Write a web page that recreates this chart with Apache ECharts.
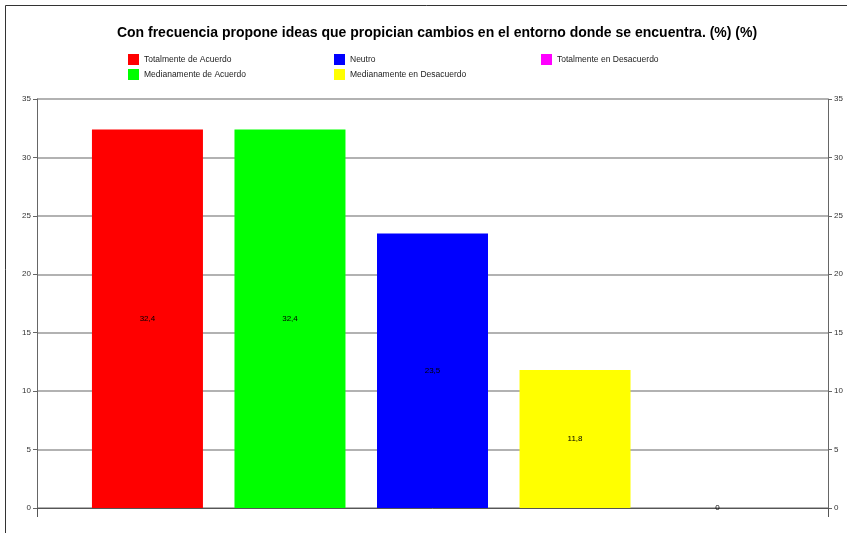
<!DOCTYPE html>
<html><head><meta charset="utf-8">
<script src="https://cdn.jsdelivr.net/npm/echarts@6/dist/echarts.min.js"></script>
<style>html,body{margin:0;padding:0;background:#fff}#c{width:847px;height:533px}</style>
</head><body><div id="c"></div>
<script>
const titleText = 'Con frecuencia propone ideas que propician cambios en el entorno donde se encuentra. (%) (%)';
const seriesNames = ['Totalmente de Acuerdo','Medianamente de Acuerdo','Neutro','Medianamente en Desacuerdo','Totalmente en Desacuerdo'];
const seriesValues = [32.4, 32.4, 23.5, 11.8, 0];
const seriesColors = ['#FF0000','#00FF00','#0000FF','#FFFF00','#FF00FF'];
const categories = [''];

const chart = echarts.init(document.getElementById('c'));
const font = 'Liberation Sans, Arial, sans-serif';
const legendCommon = {orient:'vertical', itemWidth:11, itemHeight:11, itemGap:4, icon:'rect',
  textStyle:{fontSize:8.5, color:'#222', fontFamily:font}};
const series = seriesNames.map((n,i)=>({
  name:n, type:'bar', data:[seriesValues[i]], barWidth:111, barGap:'28.4%',
  itemStyle:{color:seriesColors[i]},
  label:{show:true, position:'inside', fontSize:8, color:'#000', fontFamily:font,
    formatter:p=>String(p.value).replace('.',',')}
}));
series[4].label.position = 'insideBottom';
series[4].label.distance = -4;
chart.setOption({
  animation:false,
  title:{text:titleText, left:432, textAlign:'center', top:21,
    textStyle:{fontSize:14, fontWeight:'bold', color:'#000', fontFamily:font}},
  legend:[
    Object.assign({}, legendCommon, {left:123, top:49, data:[seriesNames[0], seriesNames[1]]}),
    Object.assign({}, legendCommon, {left:329, top:49, data:[seriesNames[2], seriesNames[3]]}),
    Object.assign({}, legendCommon, {left:536, top:49, data:[seriesNames[4]]})
  ],
  grid:{left:37, right:19, top:99, bottom:25, containLabel:false},
  xAxis:{type:'category', data:categories,
    axisLine:{lineStyle:{color:'#555'}}, axisTick:{show:true, length:9, lineStyle:{color:'#555'}},
    axisLabel:{show:false}},
  yAxis:[
    {type:'value', min:0, max:35, interval:5, position:'left',
      axisLine:{show:true, lineStyle:{color:'#666'}}, axisTick:{show:true, length:4, lineStyle:{color:'#666'}},
      axisLabel:{fontSize:8, color:'#333', margin:6, fontFamily:font},
      splitLine:{lineStyle:{color:'#999', width:1.5}}},
    {type:'value', min:0, max:35, interval:5, position:'right',
      axisLine:{show:true, lineStyle:{color:'#666'}}, axisTick:{show:true, length:4, lineStyle:{color:'#666'}},
      axisLabel:{fontSize:8, color:'#333', margin:6, fontFamily:font},
      splitLine:{show:false}}
  ],
  graphic:[
    {type:'line', shape:{x1:5.5, y1:5.5, x2:5.5, y2:533}, style:{stroke:'#333', lineWidth:1}},
    {type:'line', shape:{x1:5.5, y1:5.5, x2:847, y2:5.5}, style:{stroke:'#333', lineWidth:1}}
  ],
  series:series
});
</script></body></html>
